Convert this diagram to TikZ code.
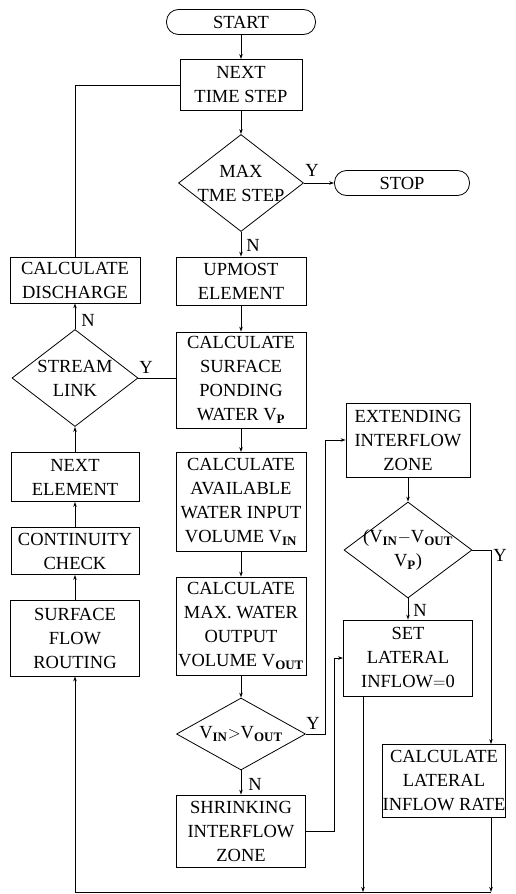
\documentclass[tikz,border=0pt]{standalone}
\usepackage{fontspec}
\setmainfont{Liberation Serif}
\usetikzlibrary{shapes.geometric,arrows.meta}
\begin{document}
\begin{tikzpicture}[x=1pt,y=-1pt,line width=0.8pt,>={Stealth[length=5pt,width=3.5pt]},
  font=\fontsize{18.5}{24}\selectfont,
  box/.style={draw,align=center,inner sep=0pt},
  term/.style={draw,rounded corners=12pt,inner sep=0pt,minimum height=25pt},
  dia/.style={draw,shape=diamond,inner sep=0pt},
  every label/.style={align=center}]
\useasboundingbox (0,0) rectangle (515,894);
\node[term,minimum width=149pt] (start) at (241,22) {START};
\node[box,minimum width=122pt,minimum height=51pt] (next) at (241,85) {NEXT\\TIME STEP};
\node[dia,minimum width=125pt,minimum height=97pt,label=center:{MAX\\TME STEP}] (maxt) at (241,183) {};
\node[term,minimum width=135pt] (stop) at (402,183) {STOP};
\node[box,minimum width=130pt,minimum height=48pt] (upm) at (241,281) {UPMOST\\ELEMENT};
\node[box,minimum width=130pt,minimum height=96pt] (pond) at (241,380) {CALCULATE\\SURFACE\\PONDING\\WATER V\textsubscript{\bfseries P}};
\node[box,minimum width=130pt,minimum height=99pt] (avail) at (241,502) {CALCULATE\\AVAILABLE\\WATER INPUT\\VOLUME V\textsubscript{\bfseries IN}};
\node[box,minimum width=130pt,minimum height=98pt] (maxw) at (241,626) {CALCULATE\\MAX. WATER\\OUTPUT\\VOLUME V\textsubscript{\bfseries OUT}};
\node[dia,minimum width=129pt,minimum height=72pt,label=center:{V\textsubscript{\bfseries IN}$>$V\textsubscript{\bfseries OUT}}] (cmp) at (241,734) {};
\node[box,minimum width=129pt,minimum height=72pt] (shr) at (241,831) {SHRINKING\\INTERFLOW\\ZONE};
\node[box,minimum width=130pt,minimum height=46pt] (dis) at (75,280) {CALCULATE\\DISCHARGE};
\node[dia,minimum width=126pt,minimum height=97pt,label=center:{STREAM\\LINK}] (link) at (75,378) {};
\node[box,minimum width=128pt,minimum height=49pt] (nel) at (75,477) {NEXT\\ELEMENT};
\node[box,minimum width=128pt,minimum height=47pt] (cont) at (75,551) {CONTINUITY\\CHECK};
\node[box,minimum width=129pt,minimum height=76pt] (surf) at (75,638) {SURFACE\\FLOW\\ROUTING};
\node[box,minimum width=124pt,minimum height=74pt] (ext) at (408,440) {EXTENDING\\INTERFLOW\\ZONE};
\node[dia,minimum width=128pt,minimum height=96pt,label=center:{(V\textsubscript{\bfseries IN}$-$V\textsubscript{\bfseries OUT}\\V\textsubscript{\bfseries P})}] (test) at (408,550) {};
\node[box,minimum width=129pt,minimum height=76pt] (set) at (408,658) {SET\\LATERAL\\INFLOW$=$0};
\node[box,minimum width=123pt,minimum height=73pt] (rate) at (444,781) {CALCULATE\\LATERAL\\INFLOW RATE};
\coordinate (busR) at (491,892);
\coordinate (busS) at (363,892);
\draw[->] (start) -- (next);
\draw[->] (next) -- (maxt);
\draw[->] (maxt) -- (stop);
\draw[->] (maxt) -- (upm);
\draw[->] (upm) -- (pond);
\draw[->] (pond) -- (avail);
\draw[->] (avail) -- (maxw);
\draw[->] (maxw) -- (cmp);
\draw[->] (cmp) -- (shr);
\draw[->] (cmp.east) -- ++(19,0) |- (ext.west);
\draw[->] (shr.east) -- ++(28,0) |- (set.west);
\draw[->] (ext) -- (test);
\draw[->] (test) -- (set);
\draw[->] (test.east) -| (busR |- rate.north);
\draw[->] (busS |- set.south) -- (busS);
\draw[->] (busR |- rate.south) -- (busR);
\draw[->] (busR) -| (surf.south);
\draw[->] (surf) -- (cont);
\draw[->] (cont) -- (nel);
\draw[->] (nel) -- (link);
\draw[->] (link) -- (dis);
\draw (dis.north) |- (next.west);
\draw (link.east) -- (pond.west |- link.east);
\node (yStop) at (312,170) {Y};
\node (nUpm) at (253,245) {N};
\node (yLink) at (146,367) {Y};
\node (nDis) at (88,320) {N};
\node (yCmp) at (313,723) {Y};
\node (nShr) at (255,784) {N};
\node (yTest) at (500,555) {Y};
\node (nSet) at (420,610) {N};
\end{tikzpicture}
\end{document}
